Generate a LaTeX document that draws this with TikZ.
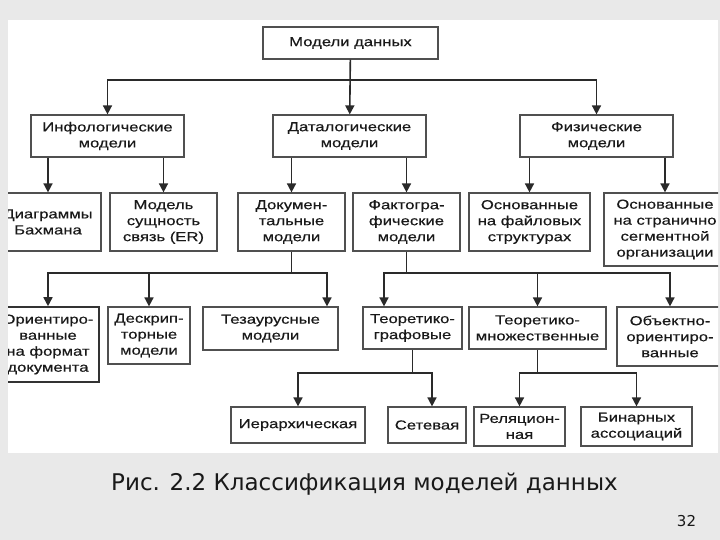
\documentclass[tikz,border=0pt]{standalone}
\usepackage{fontspec}
\setmainfont{Liberation Sans}[FakeStretch=1.28, FakeBold=0.4]
\newfontfamily\capfont{DejaVu Sans}
\usetikzlibrary{arrows.meta,positioning}
\definecolor{slidegray}{HTML}{E9E9E9}
\definecolor{linegray}{HTML}{2A2A2A}
\definecolor{framegray}{HTML}{505050}
\tikzset{>={Triangle[length=9pt,width=9pt]}, % filled arrow heads
box/.style={draw=framegray, line width=1.2pt, fill=white, align=center, inner sep=1pt,
  text=black!90, font=\fontsize{13}{16}\selectfont}, % every model box
link/.style={draw=linegray, line width=1.6pt}, % the connectors
}

\begin{document}
\begin{tikzpicture}[x=1pt, y=-1pt]
\useasboundingbox (0,0) rectangle (720,540);
\fill[slidegray] (0,0) rectangle (720,540);
\fill[white] (8,20) rectangle (718,453);

\begin{scope}
\clip (8,20) rectangle (718,453);
% level 0 and 1
\node[box, minimum width=175pt, minimum height=32pt] (root) at (350.5,43) {Модели данных};
\node[box, minimum width=153pt, minimum height=42pt] (info) at (107.5,136) {Инфологические\\модели};
\node[box, minimum width=153pt, minimum height=42pt] (data) at (349.5,136) {Даталогические\\модели};
\node[box, minimum width=153pt, minimum height=42pt] (phys) at (596.5,136) {Физические\\модели};
% level 2
\node[box, minimum width=106pt, minimum height=58pt] (bach) at (48,222) {Диаграммы\\Бахмана};
\node[box, minimum width=107pt, minimum height=58pt] (er) at (163.5,222) {Модель\\сущность\\связь (ER)};
\node[box, minimum width=107pt, minimum height=58pt] (doc) at (291.5,222) {Докумен-\\тальные\\модели};
\node[box, minimum width=107pt, minimum height=58pt] (fact) at (406.5,222) {Фактогра-\\фические\\модели};
\node[box, minimum width=121pt, minimum height=58pt] (file) at (529.5,222) {Основанные\\на файловых\\структурах};
\node[box, minimum width=122pt, minimum height=73pt] (page) at (665,229.5) {Основанные\\на странично\\сегментной\\организации};
% level 3
\node[box, line width=1.6pt, draw=black!80, minimum width=102pt, minimum height=75pt] (orient) at (48,344.5) {Ориентиро-\\ванные\\на формат\\документа};
\node[box, minimum width=82pt, minimum height=57pt] (desc) at (149,335.5) {Дескрип-\\торные\\модели};
\node[box, minimum width=135pt, minimum height=43pt] (thes) at (270.5,328.5) {Тезаурусные\\модели};
\node[box, minimum width=99pt, minimum height=42pt] (graph) at (412.5,328) {Теоретико-\\графовые};
\node[box, minimum width=137pt, minimum height=42pt] (sets) at (537.5,328) {Теоретико-\\множественные};
\node[box, minimum width=106pt, minimum height=59pt] (obj) at (670,336.5) {Объектно-\\ориентиро-\\ванные};
% level 4
\node[box, minimum width=134pt, minimum height=36pt] (hier) at (298,425) {Иерархическая};
\node[box, minimum width=78pt, minimum height=36pt] (net) at (427,425) {Сетевая};
\node[box, minimum width=91pt, minimum height=39pt] (rel) at (519.5,426.5) {Реляцион-\\ная};
\node[box, minimum width=111pt, minimum height=39pt] (bin) at (636.5,426.5) {Бинарных\\ассоциаций};

% connectors
\coordinate (rj) at (root.south |- 0,80);
\draw[link,->] (root) -- (data);
\draw[link,->] (rj) -| (info);
\draw[link,->] (rj) -| (phys);
\draw[link,->] (info.south -| bach) -- (bach);
\draw[link,->] (info.south -| er) -- (er);
\draw[link,->] (data.south -| doc) -- (doc);
\draw[link,->] (data.south -| fact) -- (fact);
\draw[link,->] (phys.south -| file) -- (file);
\draw[link,->] (phys.south -| page) -- (page);

\coordinate (dj) at (doc.south |- 0,273);
\draw[link] (doc) -- (dj);
\draw[link,->] (dj) -| (orient);
\draw[link,->] (dj) -| (desc);
\draw[link,->] (dj) -| ([xshift=56.5pt]thes.north);

\coordinate (fj) at (fact.south |- 0,273);
\draw[link] (fact) -- (fj);
\draw[link,->] (fj) -| ([xshift=-28.5pt]graph.north);
\draw[link,->] (fj) -| (sets);
\draw[link,->] (fj) -| (obj);

\coordinate (gj) at (graph.south |- 0,373);
\draw[link] (graph) -- (gj);
\draw[link,->] (gj) -| (hier);
\draw[link,->] (gj) -| ([xshift=5pt]net.north);

\coordinate (sj) at (sets.south |- 0,373);
\draw[link] (sets) -- (sj);
\draw[link,->] (sj) -| (rel);
\draw[link,->] (sj) -| (bin);
\end{scope}

% caption and page number
\node[anchor=base, font=\capfont\fontsize{23}{26}\selectfont, text=black!90] (cap) at (364.5,490) {Рис. 2.2 Классификация моделей данных};
\node[anchor=base, font=\capfont\fontsize{15}{18}\selectfont, text=black!90] (num) at (686.5,526) {32};
\end{tikzpicture}
\end{document}
